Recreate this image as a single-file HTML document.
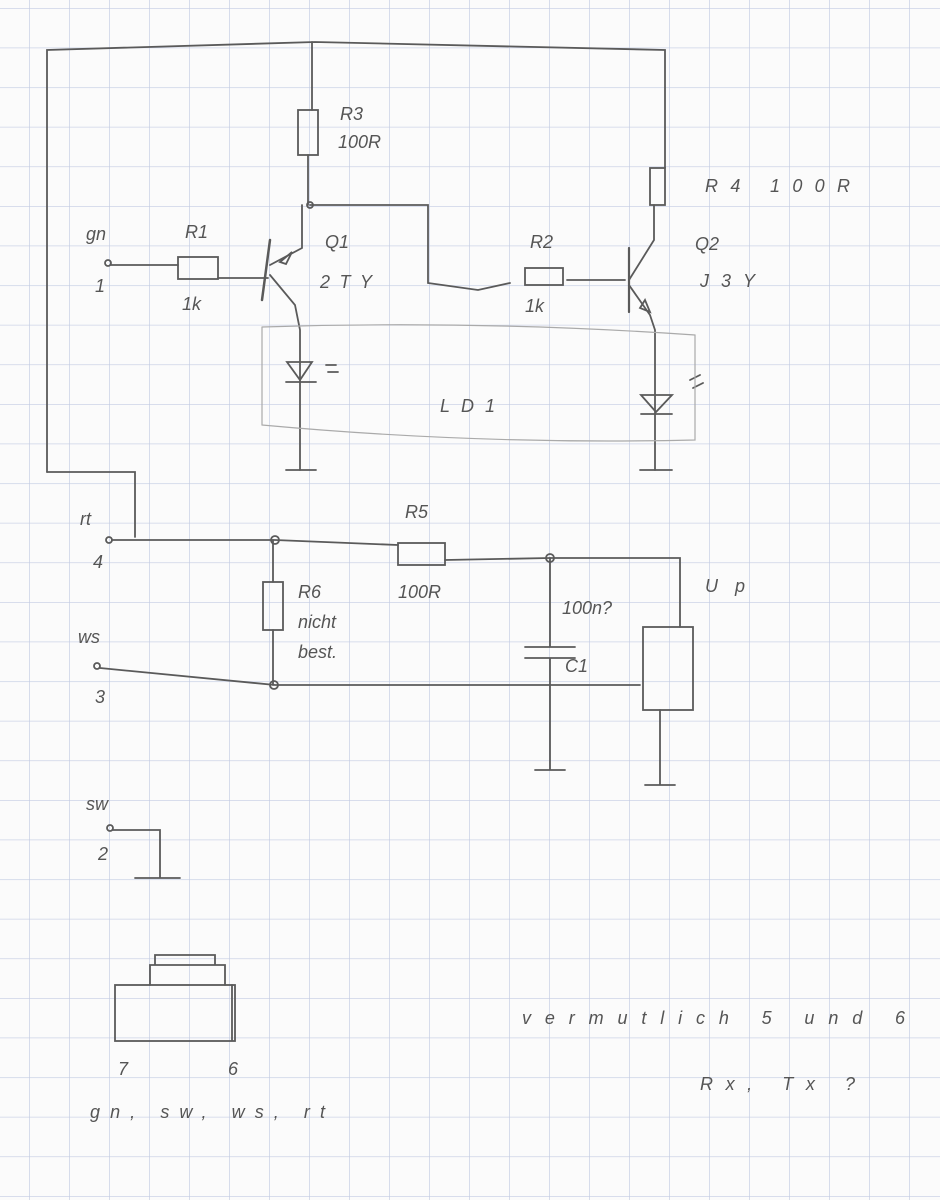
<!DOCTYPE html>
<html><head><meta charset="utf-8"><style>
html,body{margin:0;padding:0;background:#fbfbfb}
svg{display:block}
text{font-family:"Liberation Sans",sans-serif;font-style:italic;fill:#555;font-size:18px}
</style></head><body>
<svg width="940" height="1200" viewBox="0 0 940 1200">
<defs>
<pattern id="g" x="29" y="8" width="40" height="39.6" patternUnits="userSpaceOnUse">
<path d="M0 0V40M0 0H40" stroke="#c2cbe2" stroke-width="1.3" fill="none"/>
</pattern>
</defs>
<rect width="940" height="1200" fill="#fbfbfb"/>
<rect width="940" height="1200" fill="url(#g)"/>
<g stroke="#5a5a5a" stroke-width="1.8" fill="none" stroke-linecap="round">
<path d="M47 472V50L315 42L665 50V168"/>
<path d="M47 472H135V537"/>
<path d="M312 42V110"/><rect x="298" y="110" width="20" height="45"/>
<path d="M308 155V205"/>
<circle cx="310" cy="205" r="3"/>
<path d="M310 205H428V283L478 290L510 283"/>
<circle cx="108" cy="263" r="3"/>
<path d="M111 265H178"/><rect x="178" y="257" width="40" height="22"/>
<path d="M218 278H268"/>
<path d="M270 240L262 300" stroke-width="2.5"/>
<path d="M270 265L302 248V205"/><path d="M280 262L292 252L286 264Z"/>
<path d="M270 275L295 305L300 330V470"/>
<path d="M286 470H316"/>
<path d="M287 362H312L300 380Z"/><path d="M286 382H316"/>
<path d="M326 365h10M328 372h10"/>
<rect x="525" y="268" width="38" height="17"/>
<path d="M567 280H625"/>
<path d="M629 248V312" stroke-width="2.2"/>
<path d="M629 280L654 240V205"/>
<rect x="650" y="168" width="15" height="37"/>
<path d="M629 285L650 315L655 330V470"/>
<path d="M645 300L650 312L640 308Z"/>
<path d="M641 395H672L656 412Z"/><path d="M641 414H672"/>
<path d="M640 470H672"/>
<path d="M690 380l10 -5M693 388l10 -5"/>
<path d="M262 327Q480 320 695 335V440Q480 445 262 425V327" stroke="#aaa" stroke-width="1.2"/>
<circle cx="109" cy="540" r="3"/>
<path d="M112 540H275L398 545"/>
<circle cx="275" cy="540" r="4"/>
<rect x="398" y="543" width="47" height="22"/>
<path d="M445 560L550 558H680V627"/>
<circle cx="550" cy="558" r="4"/>
<path d="M273 540V582"/><rect x="263" y="582" width="20" height="48"/>
<path d="M273 630V685"/><circle cx="274" cy="685" r="4"/>
<circle cx="97" cy="666" r="3"/>
<path d="M100 668L275 685H640"/>
<path d="M550 558V646M525 647H575M525 658H575M550 658V770M535 770H565"/>
<rect x="643" y="627" width="50" height="83"/>
<path d="M660 710V785M645 785H675"/>
<circle cx="110" cy="828" r="3"/>
<path d="M113 830H160V878M135 878H180"/>
<rect x="115" y="985" width="120" height="56"/>
<path d="M150 985V965H225V985M155 965V955H215V965M232 985V1040"/>
</g>
<text x="340" y="120">R3</text><text x="338" y="148" font-size="14">100R</text>
<text x="705" y="192" textLength="145" lengthAdjust="spacing">R4  100R</text>
<text x="86" y="240">gn</text><text x="95" y="292">1</text>
<text x="185" y="238">R1</text><text x="182" y="310">1k</text>
<text x="325" y="248">Q1</text><text x="320" y="288" textLength="52" lengthAdjust="spacing">2TY</text>
<text x="530" y="248">R2</text><text x="525" y="312">1k</text>
<text x="695" y="250">Q2</text><text x="700" y="287" textLength="55" lengthAdjust="spacing">J3Y</text>
<text x="440" y="412" textLength="55" lengthAdjust="spacing">LD1</text>
<text x="80" y="525">rt</text><text x="93" y="568">4</text>
<text x="405" y="518">R5</text><text x="398" y="598" font-size="15">100R</text>
<text x="298" y="598">R6</text><text x="298" y="628">nicht</text><text x="298" y="658">best.</text>
<text x="562" y="614" font-size="12">100n?</text><text x="565" y="672">C1</text>
<text x="705" y="592" textLength="40" lengthAdjust="spacing">Up</text>
<text x="78" y="643">ws</text><text x="95" y="703">3</text>
<text x="86" y="810">sw</text><text x="98" y="860">2</text>
<text x="118" y="1075">7</text><text x="228" y="1075">6</text>
<text x="90" y="1118" textLength="235" lengthAdjust="spacing">gn, sw, ws, rt</text>
<text x="522" y="1024" textLength="383" lengthAdjust="spacing">vermutlich  5 und 6</text>
<text x="700" y="1090" font-size="24" textLength="155" lengthAdjust="spacing">Rx, Tx ?</text>
</svg>
</body></html>
